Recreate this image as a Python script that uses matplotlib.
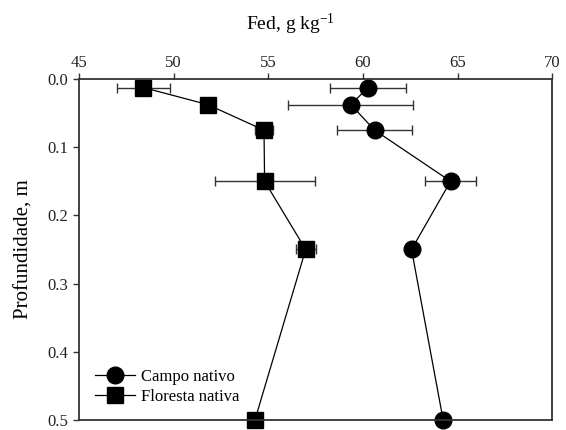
import matplotlib
matplotlib.use("Agg")
import matplotlib.pyplot as plt
import numpy as np

plt.rcParams['font.family'] = ['Liberation Serif', 'DejaVu Serif']
plt.rcParams['mathtext.fontset'] = 'custom'
plt.rcParams['mathtext.rm'] = 'Liberation Serif'
plt.rcParams['mathtext.it'] = 'Liberation Serif:italic'

depth = [0.0125, 0.0375, 0.075, 0.15, 0.25, 0.5]

campo = [60.27, 59.35, 60.61, 64.62, 62.56, 64.23]
campo_err = [2.0, 3.3, 2.0, 1.36, 0.0, 0.0]

floresta = [48.39, 51.79, 54.77, 54.8, 56.97, 54.29]
floresta_err = [1.4, 0.0, 0.48, 2.64, 0.53, 0.0]

x_ticks = [45, 50, 55, 60, 65, 70]
y_ticks = [0.0, 0.1, 0.2, 0.3, 0.4, 0.5]

fig = plt.figure(figsize=(5.66, 4.3), dpi=100)
ax = fig.add_axes([0.1396, 0.0233, 0.8364, 0.7930])

handles = []
for vals, errs, mk, ms, lab in [(campo, campo_err, 'o', 12, 'Campo nativo'),
                                (floresta, floresta_err, 's', 11, 'Floresta nativa')]:
    cont = ax.errorbar(vals, depth, xerr=errs, color='black', ecolor='#333333',
                       elinewidth=1.0, capsize=3.5, capthick=1.0, linewidth=0.9,
                       marker=mk, markersize=ms, label=lab)
    cont[0].set_clip_on(False)
    handles.append(cont[0])

ax.set_xlim(45, 70)
ax.set_ylim(0.5, 0.0)
ax.set_xticks(x_ticks)
ax.set_yticks(y_ticks)
ax.set_yticklabels([f"{v:.1f}" for v in y_ticks])

ax.xaxis.tick_top()
ax.tick_params(axis='both', direction='out', length=4, width=1, labelsize=12,
               colors='#333333', labelcolor='#222222')
ax.tick_params(axis='x', pad=2)
for s in ax.spines.values():
    s.set_linewidth(1.3)
    s.set_color('#333333')

# title sits a bit left of the axes centre in the original
fig.text(290 / 566, 1 - 24 / 430, r'Fed, g kg$^{\mathrm{-1}}$', fontsize=14,
         ha='center', va='center')
ax.set_ylabel('Profundidade, m', fontsize=15, labelpad=10)

ax.legend(handles, ['Campo nativo', 'Floresta nativa'], loc='lower left',
          bbox_to_anchor=(0.005, 0.005), frameon=False,
          fontsize=12, handlelength=2.4, handletextpad=0.4, labelspacing=0.25,
          borderpad=0.3)

fig.savefig('out.png', dpi=100)
